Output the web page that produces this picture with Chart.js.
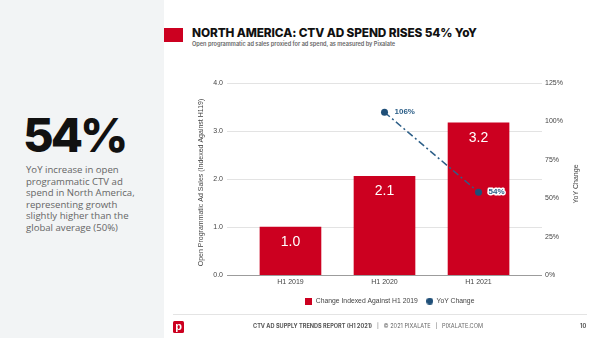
<!DOCTYPE html>
<html><head><meta charset="utf-8">
<script src="https://cdn.jsdelivr.net/npm/chart.js@4"></script>
<style>
html,body{margin:0;padding:0;width:600px;height:338px;overflow:hidden;background:#fff;font-family:'Liberation Sans',Arial,sans-serif;}
#panel{position:absolute;left:0;top:0;width:164px;height:338px;background:#f2f4f5;}
#big{position:absolute;left:23px;top:106px;font-family:Inter,sans-serif;font-weight:800;font-size:47px;line-height:58px;color:#111;letter-spacing:-3px;white-space:nowrap;}
#para{position:absolute;left:26px;top:164px;font-family:'Open Sans',sans-serif;font-size:9.6px;line-height:11.6px;color:#666;white-space:nowrap;}
#redsq{position:absolute;left:164px;top:28px;width:19px;height:14px;background:#cc0020;}
#title{position:absolute;left:192px;top:25px;font-family:Inter,sans-serif;font-weight:800;font-size:11.8px;line-height:16px;color:#111;white-space:nowrap;letter-spacing:-0.1px;}
#sub{position:absolute;left:192px;top:41px;font-family:Inter,sans-serif;font-weight:600;font-size:5.6px;line-height:7px;color:#666;white-space:nowrap;}
#chartwrap{position:absolute;left:180px;top:60px;width:420px;height:256px;}
#fline{position:absolute;left:173px;top:314px;width:414px;height:1px;background:#e4e4e4;}
#logo{position:absolute;left:173px;top:321px;width:11px;height:12px;background:#cc0020;border-radius:1.5px;color:#fff;font:bold 11px/10px 'Liberation Sans',Arial,sans-serif;text-align:center;}
#foot{position:absolute;left:253px;top:322px;font-family:Inter,sans-serif;font-size:5.6px;line-height:8px;color:#666;white-space:nowrap;}
#foot b{font-weight:700;color:#555;}
#pg{position:absolute;left:580px;top:322px;font-family:Inter,sans-serif;font-weight:700;font-size:5.6px;line-height:8px;color:#555;}
</style></head>
<body>
<div id="panel"></div>
<div id="big">54%</div>
<div id="para">YoY increase in open<br>programmatic CTV ad<br>spend in North America,<br>representing growth<br>slightly higher than the<br>global average (50%)</div>
<div id="redsq"></div>
<div id="title">NORTH AMERICA: CTV AD SPEND RISES 54% YoY</div>
<div id="sub">Open programmatic ad sales proxied for ad spend, as measured by Pixalate</div>
<div id="chartwrap"><canvas id="c" width="420" height="256"></canvas></div>
<div id="fline"></div>
<div id="logo">p</div>
<div id="foot"><b>CTV AD SUPPLY TRENDS REPORT (H1 2021)</b> &nbsp;&nbsp;|&nbsp;&nbsp; © 2021 PIXALATE &nbsp;&nbsp;|&nbsp;&nbsp; PIXALATE.COM</div>
<div id="pg">10</div>
<script>
const categories = ['H1 2019', 'H1 2020', 'H1 2021'];
const indexValues = [1.0, 2.06, 3.17];
const yoyValues = [null, 1.06, 0.54];
const leftTicks = [0, 1, 2, 3, 4];
const rightTicks = [0, 0.25, 0.5, 0.75, 1.0, 1.25];
const seriesNames = ['Change Indexed Against H1 2019', 'YoY Change'];
const leftTitle = 'Open Programmatic Ad Sales (Indexed Against H119)';
const rightTitle = 'YoY Change';

const RED = '#cc0020';
const BLUE = '#2d5f88';
const BLUE_PT = '#1f4f78';

function makeIcon(kind, color) {
  const cv = document.createElement('canvas');
  cv.width = 7; cv.height = 7;
  const g = cv.getContext('2d');
  g.fillStyle = color;
  if (kind === 'rect') g.fillRect(0, 0, 7, 7);
  else { g.beginPath(); g.arc(3.5, 3.5, 3.5, 0, Math.PI * 2); g.fill(); }
  return cv;
}
const icons = [makeIcon('rect', RED), makeIcon('circle', BLUE_PT)];

const labelPlugin = {
  id: 'labelPlugin',
  afterDatasetsDraw(chart) {
    const ctx = chart.ctx;
    ctx.save();
    const barMeta = chart.getDatasetMeta(0);
    ctx.font = '14px "Liberation Sans", Arial, sans-serif';
    ctx.fillStyle = '#fff';
    ctx.textAlign = 'center';
    ctx.textBaseline = 'middle';
    barMeta.data.forEach((el, i) => {
      ctx.fillText(indexValues[i].toFixed(1), el.x, el.y + 15);
    });
    const lineMeta = chart.getDatasetMeta(1);
    ctx.font = 'bold 8px "Liberation Sans", Arial, sans-serif';
    ctx.textAlign = 'left';
    lineMeta.data.forEach((el, i) => {
      const v = yoyValues[i];
      if (v == null) return;
      const t = Math.round(v * 100) + '%';
      ctx.lineWidth = 3; ctx.lineJoin = 'round'; ctx.strokeStyle = '#fff';
      ctx.strokeText(t, el.x + 10, el.y);
      ctx.fillStyle = BLUE;
      ctx.fillText(t, el.x + 10, el.y);
    });
    ctx.restore();
  },
  afterDraw(chart) {
    const ctx = chart.ctx;
    ctx.save();
    ctx.font = '7px "Liberation Sans", Arial, sans-serif';
    ctx.fillStyle = '#444';
    ctx.textAlign = 'center';
    ctx.textBaseline = 'middle';
    ctx.translate(20.7, 122.5);
    ctx.rotate(-Math.PI / 2);
    ctx.fillText(leftTitle, 0, 0);
    ctx.restore();
    ctx.save();
    ctx.font = '7px "Liberation Sans", Arial, sans-serif';
    ctx.fillStyle = '#444';
    ctx.textAlign = 'center';
    ctx.textBaseline = 'middle';
    ctx.translate(chart.scales.y1.right - 24, 124);
    ctx.rotate(-Math.PI / 2);
    ctx.fillText(rightTitle, 0, 0);
    ctx.restore();
  }
};

new Chart(document.getElementById('c'), {
  data: {
    datasets: [
      {
        type: 'bar',
        label: seriesNames[0],
        data: categories.map((c, i) => ({ x: i, y: indexValues[i] })),
        backgroundColor: RED,
        barThickness: 61,
        yAxisID: 'y',
        order: 2
      },
      {
        type: 'line',
        label: seriesNames[1],
        data: categories.map((c, i) => ({ x: i, y: yoyValues[i] })),
        borderColor: BLUE,
        borderWidth: 1.5,
        borderDash: [7, 3, 2, 3],
        pointRadius: 3.5,
        pointBackgroundColor: BLUE_PT,
        pointBorderWidth: 0,
        spanGaps: false,
        yAxisID: 'y1',
        order: 1
      }
    ]
  },
  options: {
    responsive: false,
    animation: false,
    devicePixelRatio: 1,
    layout: { padding: { top: 23, left: 0, right: 0, bottom: 1.5 } },
    scales: {
      x: {
        type: 'linear',
        offset: false,
        min: -0.675,
        max: 2.675,
        bounds: 'data',
        grid: { display: false, drawTicks: false, offset: false },
        border: { display: false },
        afterBuildTicks: s => { s.ticks = categories.map((c, i) => ({ value: i })); },
        afterFit: s => { s.height = 14; },
        ticks: {
          autoSkip: false, maxRotation: 0, padding: 3,
          color: '#444', font: { size: 7, family: '"Liberation Sans", Arial, sans-serif' },
          callback: v => categories[v]
        }
      },
      y: {
        position: 'left',
        min: 0, max: 4,
        afterBuildTicks: s => { s.ticks = leftTicks.map(v => ({ value: v })); },
        afterFit: s => { s.width = 47; },
        grid: { drawTicks: false, color: ctx => (ctx.tick && ctx.tick.value === 0) ? '#9c9c9c' : '#e3e3e3' },
        border: { display: false },
        ticks: {
          padding: 4, color: '#444', font: { size: 7, family: '"Liberation Sans", Arial, sans-serif' },
          callback: v => Number(v).toFixed(1)
        }
      },
      y1: {
        position: 'right',
        min: 0, max: 1.25,
        afterBuildTicks: s => { s.ticks = rightTicks.map(v => ({ value: v })); },
        afterFit: s => { s.width = 58; },
        grid: { display: false, drawTicks: false },
        border: { display: false },
        ticks: {
          padding: 3, color: '#444', font: { size: 7, family: '"Liberation Sans", Arial, sans-serif' },
          callback: v => Math.round(v * 100) + '%'
        }
      }
    },
    plugins: {
      tooltip: { enabled: false },
      legend: {
        position: 'bottom',
        labels: {
          usePointStyle: true,
          boxWidth: 7, boxHeight: 7,
          padding: 8.5,
          color: '#444',
          font: { size: 6.8, family: '"Liberation Sans", Arial, sans-serif' },
          sort: (a, b) => a.datasetIndex - b.datasetIndex,
          generateLabels: chart => {
            const items = Chart.defaults.plugins.legend.labels.generateLabels(chart);
            items.forEach(it => { it.pointStyle = icons[it.datasetIndex]; });
            return items;
          }
        }
      }
    }
  },
  plugins: [labelPlugin]
});
</script>
</body></html>
